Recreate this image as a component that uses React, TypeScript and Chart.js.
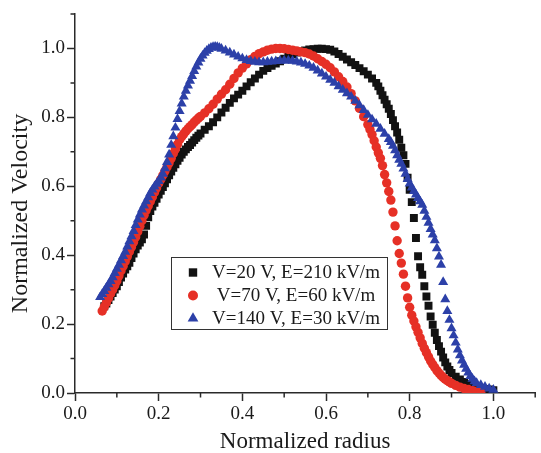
import React, { useEffect, useRef } from "react";
import { Chart, registerables } from "chart.js";

Chart.register(...registerables);

const SERIES_LABELS = ["V=20 V, E=210 kV/m", "V=70 V, E=60 kV/m", "V=140 V, E=30 kV/m"];
const X_TITLE = "Normalized radius";
const Y_TITLE = "Normalized Velocity";
const X_MAJOR = [0, 0.2, 0.4, 0.6, 0.8, 1.0];
const X_MINOR = [0.1, 0.3, 0.5, 0.7, 0.9, 1.1];
const Y_MAJOR = [0, 0.2, 0.4, 0.6, 0.8, 1.0];
const Y_MINOR = [0.1, 0.3, 0.5, 0.7, 0.9, 1.1];

// [normalized radius, normalized velocity]
const BLACK_POINTS: [number, number][] = [
  [0.07, 0.252], [0.075, 0.26], [0.08, 0.27], [0.085, 0.28], [0.09, 0.29], [0.095, 0.3],
  [0.1, 0.31], [0.105, 0.322], [0.11, 0.335], [0.115, 0.347], [0.12, 0.358], [0.125, 0.368],
  [0.13, 0.378], [0.135, 0.392], [0.14, 0.405], [0.145, 0.417], [0.15, 0.428], [0.155, 0.437],
  [0.16, 0.446], [0.165, 0.46], [0.17, 0.485], [0.175, 0.51], [0.18, 0.528], [0.185, 0.541],
  [0.19, 0.552], [0.195, 0.564], [0.2, 0.576], [0.205, 0.587], [0.21, 0.598], [0.215, 0.609],
  [0.22, 0.62], [0.225, 0.632], [0.23, 0.643], [0.235, 0.654], [0.24, 0.664], [0.245, 0.674],
  [0.25, 0.683], [0.255, 0.692], [0.26, 0.7], [0.265, 0.707], [0.27, 0.714], [0.275, 0.72],
  [0.28, 0.727], [0.285, 0.734], [0.29, 0.741], [0.295, 0.747], [0.3, 0.753],
  [0.31, 0.764], [0.32, 0.774], [0.33, 0.786], [0.34, 0.8], [0.35, 0.814], [0.36, 0.828],
  [0.37, 0.842], [0.38, 0.855], [0.39, 0.866], [0.4, 0.877], [0.41, 0.89], [0.42, 0.902],
  [0.43, 0.913], [0.44, 0.924], [0.45, 0.935], [0.46, 0.943], [0.47, 0.95], [0.48, 0.956],
  [0.49, 0.963], [0.5, 0.97], [0.51, 0.977], [0.52, 0.983], [0.53, 0.988], [0.54, 0.991],
  [0.55, 0.994], [0.56, 0.997], [0.57, 0.998], [0.58, 0.999], [0.59, 0.999], [0.6, 0.998],
  [0.61, 0.996], [0.62, 0.991], [0.63, 0.984], [0.64, 0.976], [0.65, 0.968], [0.66, 0.96],
  [0.67, 0.952], [0.68, 0.943], [0.69, 0.934], [0.7, 0.924], [0.71, 0.913], [0.72, 0.9],
  [0.725, 0.89], [0.73, 0.877], [0.735, 0.864], [0.74, 0.851], [0.745, 0.838], [0.75, 0.825],
  [0.755, 0.81], [0.76, 0.792], [0.765, 0.774], [0.77, 0.756], [0.775, 0.735], [0.78, 0.712],
  [0.785, 0.69], [0.79, 0.665], [0.795, 0.625], [0.8, 0.59], [0.805, 0.554], [0.81, 0.508],
  [0.815, 0.45], [0.82, 0.397], [0.825, 0.365], [0.83, 0.343], [0.835, 0.31], [0.84, 0.28],
  [0.845, 0.253], [0.85, 0.222], [0.855, 0.198], [0.86, 0.175], [0.865, 0.154], [0.87, 0.136],
  [0.875, 0.12], [0.88, 0.103], [0.885, 0.089], [0.89, 0.077], [0.895, 0.067], [0.9, 0.058],
  [0.91, 0.047], [0.92, 0.039], [0.93, 0.032], [0.94, 0.026], [0.95, 0.021], [0.96, 0.017],
  [0.97, 0.014], [0.98, 0.012], [0.99, 0.01], [1.0, 0.008],
];

const RED_POINTS: [number, number][] = [
  [0.065, 0.238], [0.07, 0.25], [0.075, 0.262], [0.08, 0.275], [0.085, 0.288], [0.09, 0.3],
  [0.095, 0.312], [0.1, 0.325], [0.105, 0.34], [0.11, 0.355], [0.115, 0.368], [0.12, 0.382],
  [0.125, 0.396], [0.13, 0.41], [0.135, 0.424], [0.14, 0.438], [0.145, 0.453], [0.15, 0.468],
  [0.155, 0.484], [0.16, 0.5], [0.165, 0.516], [0.17, 0.53], [0.175, 0.543], [0.18, 0.556],
  [0.185, 0.569], [0.19, 0.582], [0.195, 0.595], [0.2, 0.608], [0.205, 0.62], [0.21, 0.632],
  [0.215, 0.644], [0.22, 0.656], [0.225, 0.668], [0.23, 0.681], [0.235, 0.695], [0.24, 0.708],
  [0.245, 0.722], [0.25, 0.735], [0.255, 0.744], [0.26, 0.752], [0.265, 0.76], [0.27, 0.767],
  [0.275, 0.773], [0.28, 0.779], [0.285, 0.786], [0.29, 0.792], [0.295, 0.798], [0.3, 0.803],
  [0.31, 0.813], [0.32, 0.825], [0.33, 0.838], [0.34, 0.853], [0.35, 0.867], [0.36, 0.88],
  [0.37, 0.896], [0.38, 0.913], [0.39, 0.929], [0.4, 0.943], [0.41, 0.955], [0.42, 0.967],
  [0.43, 0.977], [0.44, 0.985], [0.45, 0.99], [0.46, 0.995], [0.47, 0.998], [0.48, 1.0],
  [0.49, 1.0], [0.5, 0.999], [0.51, 0.997], [0.52, 0.995], [0.53, 0.993], [0.54, 0.99],
  [0.55, 0.988], [0.56, 0.984], [0.57, 0.978], [0.58, 0.97], [0.59, 0.962], [0.6, 0.954],
  [0.61, 0.944], [0.62, 0.932], [0.63, 0.918], [0.64, 0.904], [0.65, 0.888], [0.66, 0.869],
  [0.67, 0.848], [0.68, 0.826], [0.69, 0.802], [0.7, 0.779], [0.705, 0.765], [0.71, 0.75],
  [0.715, 0.732], [0.72, 0.714], [0.725, 0.697], [0.73, 0.681], [0.735, 0.66], [0.74, 0.634],
  [0.745, 0.61], [0.75, 0.585], [0.755, 0.56], [0.76, 0.525], [0.765, 0.485], [0.77, 0.442],
  [0.775, 0.405], [0.78, 0.377], [0.785, 0.345], [0.79, 0.31], [0.795, 0.276], [0.8, 0.249],
  [0.805, 0.226], [0.81, 0.209], [0.815, 0.192], [0.82, 0.176], [0.825, 0.16], [0.83, 0.144],
  [0.835, 0.13], [0.84, 0.117], [0.845, 0.105], [0.85, 0.093], [0.855, 0.083], [0.86, 0.074],
  [0.865, 0.065], [0.87, 0.058], [0.875, 0.051], [0.88, 0.045], [0.885, 0.04], [0.89, 0.036],
  [0.895, 0.032], [0.9, 0.028], [0.91, 0.022], [0.92, 0.017], [0.93, 0.013], [0.94, 0.01],
  [0.95, 0.007], [0.96, 0.005], [0.97, 0.003],
];

const BLUE_POINTS: [number, number][] = [
  [0.06, 0.278], [0.065, 0.287], [0.07, 0.296], [0.075, 0.305], [0.08, 0.315], [0.085, 0.325],
  [0.09, 0.336], [0.095, 0.348], [0.1, 0.36], [0.105, 0.372], [0.11, 0.385], [0.115, 0.397],
  [0.12, 0.41], [0.125, 0.425], [0.13, 0.44], [0.135, 0.455], [0.14, 0.47], [0.145, 0.487],
  [0.15, 0.503], [0.155, 0.518], [0.16, 0.532], [0.165, 0.544], [0.17, 0.556], [0.175, 0.568],
  [0.18, 0.58], [0.185, 0.59], [0.19, 0.599], [0.195, 0.607], [0.2, 0.615], [0.205, 0.625],
  [0.21, 0.636], [0.215, 0.652], [0.22, 0.67], [0.225, 0.692], [0.23, 0.72], [0.235, 0.745],
  [0.24, 0.77], [0.245, 0.795], [0.25, 0.818], [0.255, 0.84], [0.26, 0.86], [0.265, 0.877],
  [0.27, 0.892], [0.275, 0.906], [0.28, 0.92], [0.285, 0.934], [0.29, 0.947], [0.295, 0.959],
  [0.3, 0.97], [0.305, 0.979], [0.31, 0.987], [0.315, 0.993], [0.32, 0.998], [0.325, 1.002],
  [0.33, 1.004], [0.335, 1.005], [0.34, 1.004], [0.345, 1.002], [0.35, 0.999],
  [0.36, 0.994], [0.37, 0.988], [0.38, 0.982], [0.39, 0.976], [0.4, 0.971], [0.41, 0.966],
  [0.42, 0.963], [0.43, 0.961], [0.44, 0.96], [0.45, 0.96], [0.46, 0.961], [0.47, 0.962],
  [0.48, 0.963], [0.49, 0.964], [0.5, 0.965], [0.51, 0.965], [0.52, 0.964], [0.53, 0.962],
  [0.54, 0.959], [0.55, 0.955], [0.56, 0.95], [0.57, 0.944], [0.58, 0.936], [0.59, 0.927],
  [0.6, 0.918], [0.61, 0.909], [0.62, 0.9], [0.63, 0.89], [0.64, 0.88], [0.65, 0.87],
  [0.66, 0.86], [0.67, 0.848], [0.68, 0.835], [0.69, 0.821], [0.7, 0.807], [0.71, 0.794],
  [0.72, 0.781], [0.73, 0.767], [0.74, 0.752], [0.75, 0.737], [0.755, 0.728], [0.76, 0.717],
  [0.765, 0.704], [0.77, 0.69], [0.775, 0.677], [0.78, 0.665], [0.785, 0.651], [0.79, 0.636],
  [0.795, 0.621], [0.8, 0.608], [0.805, 0.596], [0.81, 0.586], [0.815, 0.576], [0.82, 0.566],
  [0.825, 0.556], [0.83, 0.546], [0.835, 0.529], [0.84, 0.511], [0.845, 0.494], [0.85, 0.476],
  [0.855, 0.46], [0.86, 0.443], [0.865, 0.42], [0.87, 0.396], [0.875, 0.372], [0.88, 0.322],
  [0.885, 0.272], [0.89, 0.238], [0.895, 0.212], [0.9, 0.188], [0.905, 0.167], [0.91, 0.146],
  [0.915, 0.126], [0.92, 0.109], [0.925, 0.094], [0.93, 0.082], [0.935, 0.07], [0.94, 0.059],
  [0.945, 0.049], [0.95, 0.041], [0.955, 0.034], [0.96, 0.029], [0.97, 0.023], [0.98, 0.018],
  [0.99, 0.013], [1.0, 0.009],
];

const COLORS = ["#121212", "rgb(230,48,38)", "rgb(44,64,168)"];
const POINT_STYLES = ["rect", "circle", "triangle"];
const POINT_RADII = [5.6, 4.7, 5.8];
const AXIS_COLOR = "#2a2a2a";
const TEXT_COLOR = "#1a1a1a";
const FONT_FAMILY = "'Liberation Serif', 'Times New Roman', serif";

function drawMarker(ctx: CanvasRenderingContext2D, style: string, x: number, y: number, color: string) {
  ctx.fillStyle = color;
  ctx.beginPath();
  if (style === "rect") {
    ctx.rect(x - 4.2, y - 4.2, 8.4, 8.4);
  } else if (style === "circle") {
    ctx.arc(x, y, 5, 0, Math.PI * 2);
  } else {
    const r = 6.2;
    ctx.moveTo(x, y - r);
    ctx.lineTo(x + r * 0.866, y + r * 0.5);
    ctx.lineTo(x - r * 0.866, y + r * 0.5);
    ctx.closePath();
  }
  ctx.fill();
}

const decorPlugin = {
  id: "decor",
  afterDraw(chart: any) {
    const ctx: CanvasRenderingContext2D = chart.ctx;
    const xs = chart.scales.x;
    const ys = chart.scales.y;
    const a = chart.chartArea;
    ctx.save();
    ctx.strokeStyle = AXIS_COLOR;
    ctx.lineWidth = 1.5;
    ctx.beginPath();
    for (const v of X_MINOR) {
      const px = xs.getPixelForValue(v);
      ctx.moveTo(px, a.bottom);
      ctx.lineTo(px, a.bottom + 4.5);
    }
    for (const v of Y_MINOR) {
      const py = ys.getPixelForValue(v);
      ctx.moveTo(a.left, py);
      ctx.lineTo(a.left - 4.5, py);
    }
    ctx.stroke();

    // y axis title
    ctx.save();
    ctx.translate(21, (a.top + a.bottom) / 2 + 10);
    ctx.rotate(-Math.PI / 2);
    ctx.font = `24px ${FONT_FAMILY}`;
    ctx.fillStyle = TEXT_COLOR;
    ctx.textAlign = "center";
    ctx.textBaseline = "middle";
    ctx.fillText(Y_TITLE, 0, 0);
    ctx.restore();

    // legend box
    const left = a.left + 96;
    const top = a.top + 243;
    const w = 216;
    const h = 72;
    ctx.fillStyle = "#ffffff";
    ctx.fillRect(left, top, w, h);
    ctx.strokeStyle = "#333333";
    ctx.lineWidth = 1;
    ctx.strokeRect(Math.round(left) + 0.5, Math.round(top) + 0.5, w, h);
    ctx.font = `19px ${FONT_FAMILY}`;
    ctx.textAlign = "center";
    ctx.textBaseline = "middle";
    SERIES_LABELS.forEach((label, i) => {
      const cy = top + 15.5 + i * 23;
      drawMarker(ctx, POINT_STYLES[i], left + 22, cy, COLORS[i]);
      ctx.fillStyle = TEXT_COLOR;
      ctx.fillText(label, left + 125, cy + 1);
    });
    ctx.restore();
  },
};

export default function App() {
  const canvasRef = useRef<HTMLCanvasElement | null>(null);

  useEffect(() => {
    document.body.style.margin = "0";
    const canvas = canvasRef.current;
    if (!canvas) return;
    const seriesPoints = [BLACK_POINTS, RED_POINTS, BLUE_POINTS];
    const chart = new Chart(canvas, {
      type: "scatter",
      data: {
        datasets: seriesPoints.map((pts, i) => ({
          label: SERIES_LABELS[i],
          data: pts.map(([x, y]) => ({ x, y })),
          showLine: false,
          pointStyle: POINT_STYLES[i] as any,
          pointRadius: POINT_RADII[i],
          pointHoverRadius: POINT_RADII[i],
          pointBorderWidth: 0,
          borderWidth: 0,
          backgroundColor: COLORS[i],
          borderColor: COLORS[i],
          order: 3 - i,
        })),
      },
      options: {
        animation: false,
        responsive: false,
        events: [],
        layout: { padding: { top: 14, right: 1, left: 0, bottom: 0 } },
        plugins: {
          legend: { display: false },
          tooltip: { enabled: false },
        },
        scales: {
          x: {
            type: "linear",
            min: 0,
            max: 1.1,
            afterBuildTicks: (s: any) => {
              s.ticks = X_MAJOR.map((v) => ({ value: v }));
            },
            afterFit: (s: any) => {
              s.height = 60;
            },
            ticks: {
              callback: (v: any) => Number(v).toFixed(1),
              font: { family: FONT_FAMILY, size: 19 },
              color: TEXT_COLOR,
              padding: 2,
              maxRotation: 0,
              autoSkip: false,
            },
            grid: {
              display: true,
              drawOnChartArea: false,
              drawTicks: true,
              tickLength: 8,
              tickWidth: 1.5,
              tickColor: AXIS_COLOR,
            },
            border: { display: true, color: AXIS_COLOR, width: 1.5 },
            title: {
              display: true,
              text: X_TITLE,
              font: { family: FONT_FAMILY, size: 23, lineHeight: 1 },
              color: TEXT_COLOR,
              padding: { top: 0, bottom: 0 },
            },
          },
          y: {
            type: "linear",
            min: 0,
            max: 1.1,
            afterBuildTicks: (s: any) => {
              s.ticks = Y_MAJOR.map((v) => ({ value: v }));
            },
            afterFit: (s: any) => {
              s.width = 75;
            },
            ticks: {
              callback: (v: any) => Number(v).toFixed(1),
              font: { family: FONT_FAMILY, size: 19 },
              color: TEXT_COLOR,
              padding: 2,
              autoSkip: false,
            },
            grid: {
              display: true,
              drawOnChartArea: false,
              drawTicks: true,
              tickLength: 8,
              tickWidth: 1.5,
              tickColor: AXIS_COLOR,
            },
            border: { display: true, color: AXIS_COLOR, width: 1.5 },
            title: { display: false },
          },
        },
      },
      plugins: [decorPlugin],
    });
    return () => chart.destroy();
  }, []);

  return (
    <div style={{ position: "absolute", left: 0, top: 0, width: 541, height: 453, background: "#fff" }}>
      <canvas ref={canvasRef} width={541} height={453} style={{ display: "block" }} />
    </div>
  );
}
